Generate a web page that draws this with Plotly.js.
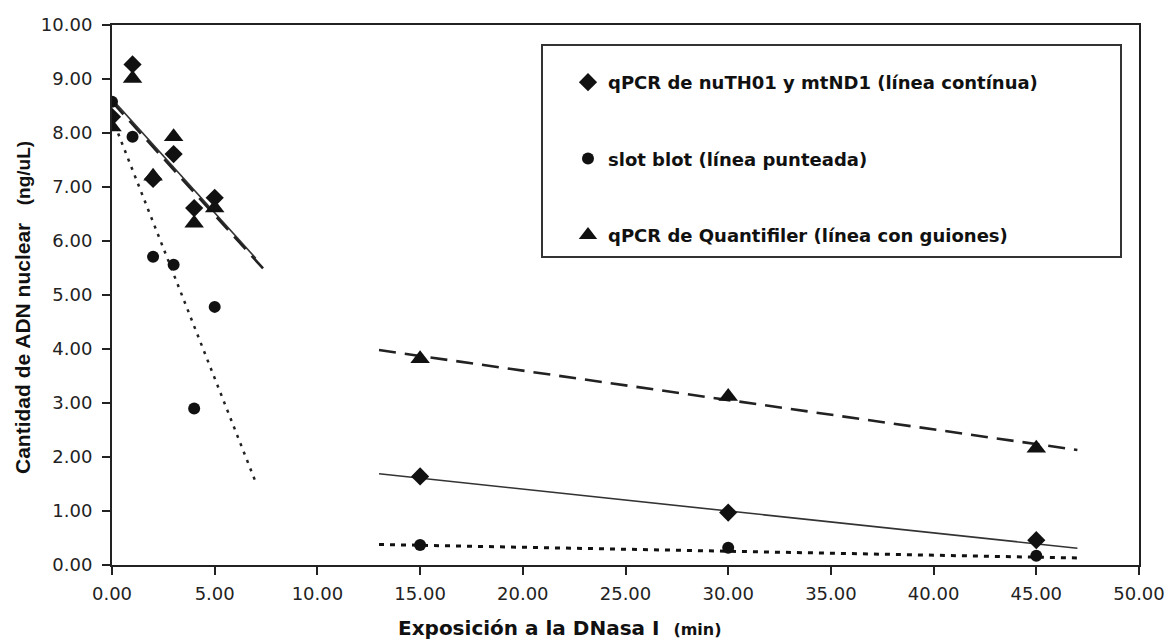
<!DOCTYPE html>
<html>
<head>
<meta charset="utf-8">
<script src="https://cdn.plot.ly/plotly-3.0.1.min.js"></script>
<style>html,body{margin:0;padding:0;background:#fff;}#chart{width:1169px;height:644px;}</style>
</head>
<body>
<div id="chart"></div>
<script>
// Exposure time (min)
const times = [0, 1, 2, 3, 4, 5, 15, 30, 45];
// qPCR nuTH01 / mtND1 (diamonds)
const qpcrNu = [8.30, 9.27, 7.15, 7.61, 6.61, 6.80, 1.64, 0.97, 0.46];
// slot blot (circles)
const slotBlot = [8.58, 7.93, 5.71, 5.56, 2.90, 4.78, 0.37, 0.32, 0.17];
// qPCR Quantifiler (triangles)
const quantifiler = [8.11, 9.01, 7.20, 7.93, 6.33, 6.61, 3.82, 3.12, 2.16];

// Trend lines (two segments each, null = break)
const fitNuX = [0, 7.0, null, 13, 47];
const fitNuY = [8.63, 5.68, null, 1.69, 0.31];
const fitQuX = [0, 7.5, null, 13, 47];
const fitQuY = [8.58, 5.43, null, 3.98, 2.13];
const fitSlotEarlyX = [0.3, 7.0];
const fitSlotEarlyY = [7.99, 1.53];
const fitSlotLateX = [13, 47];
const fitSlotLateY = [0.38, 0.13];

const names = [
  '<b>qPCR de nuTH01 y mtND1 (línea contínua)</b>',
  '<b>slot blot (línea punteada)</b>',
  '<b>qPCR de Quantifiler (línea con guiones)</b>'
];

const xTicks = [0, 5, 10, 15, 20, 25, 30, 35, 40, 45, 50];
const yTicks = [0, 1, 2, 3, 4, 5, 6, 7, 8, 9, 10];

const ink = '#111';

const traces = [
  {x: fitNuX, y: fitNuY, mode: 'lines', line: {color: '#333', width: 1.6}, showlegend: false, hoverinfo: 'skip'},
  {x: fitQuX, y: fitQuY, mode: 'lines', line: {color: '#222', width: 2.6, dash: '17px,9px'}, showlegend: false, hoverinfo: 'skip'},
  {x: fitSlotEarlyX, y: fitSlotEarlyY, mode: 'lines', line: {color: '#222', width: 2.5, dash: '3px,6px'}, showlegend: false, hoverinfo: 'skip'},
  {x: fitSlotLateX, y: fitSlotLateY, mode: 'lines', line: {color: '#111', width: 3, dash: '5px,6px'}, showlegend: false, hoverinfo: 'skip'},
  {x: times, y: qpcrNu, mode: 'markers', name: names[0], legendgroup: 'a',
   marker: {symbol: 'diamond', size: 14, color: ink}},
  {x: times, y: slotBlot, mode: 'markers', name: names[1], legendgroup: 'b',
   marker: {symbol: 'circle', size: 12, color: ink}},
  {x: times, y: quantifiler, mode: 'markers', name: names[2], legendgroup: 'c',
   marker: {symbol: 'triangle-up', size: 17, color: ink}}
];

const L = 112, R = 30, T = 25, B = 79;
const W = 1169, H = 644;
const pw = W - L - R, ph = H - T - B;
const px = v => (v - L) / pw;
const py = v => 1 - (v - T) / ph;

const layout = {
  width: W, height: H,
  margin: {l: L, r: R, t: T, b: B},
  paper_bgcolor: '#fff', plot_bgcolor: '#fff',
  showlegend: true,
  legend: {
    x: px(568), y: py(64), xanchor: 'left', yanchor: 'top',
    bgcolor: 'rgba(0,0,0,0)', borderwidth: 0,
    font: {family: 'DejaVu Sans', size: 18, color: ink},
    tracegroupgap: 50
  },
  xaxis: {
    range: [0, 50], tickvals: xTicks, ticktext: xTicks.map(v => v.toFixed(2)),
    showgrid: false, zeroline: false,
    showline: true, linecolor: '#222', linewidth: 2, mirror: true,
    ticks: 'outside', ticklen: 8, tickwidth: 2, tickcolor: '#222',
    tickfont: {family: 'DejaVu Sans', size: 18, color: '#222'},
    ticklabelstandoff: 3
  },
  yaxis: {
    range: [0, 10], tickvals: yTicks, ticktext: yTicks.map(v => v.toFixed(2)),
    showgrid: false, zeroline: false,
    showline: true, linecolor: '#222', linewidth: 2, mirror: true,
    ticks: 'outside', ticklen: 8, tickwidth: 2, tickcolor: '#222',
    tickfont: {family: 'DejaVu Sans', size: 18, color: '#222'},
    ticklabelstandoff: 6
  },
  shapes: [{
    type: 'rect', xref: 'paper', yref: 'paper',
    x0: px(542), x1: px(1121), y0: py(257), y1: py(45),
    line: {color: '#333', width: 2}, fillcolor: 'rgba(0,0,0,0)', layer: 'above'
  }],
  annotations: [
    {
      xref: 'paper', yref: 'paper', x: px(22), y: py(308), xanchor: 'center', yanchor: 'middle',
      textangle: -90, showarrow: false,
      text: '<b>Cantidad de ADN nuclear&nbsp;&nbsp;&nbsp;<span style="font-size:19px">(ng/uL)</span></b>',
      font: {family: 'Liberation Sans', size: 21, color: ink}
    },
    {
      xref: 'paper', yref: 'paper', x: px(560), y: py(628), xanchor: 'center', yanchor: 'middle',
      showarrow: false,
      text: '<b>Exposición a la DNasa I&nbsp;&nbsp;<span style="font-size:16px">(min)</span></b>',
      font: {family: 'DejaVu Sans', size: 20, color: ink}
    }
  ]
};

Plotly.newPlot('chart', traces, layout, {displayModeBar: false, staticPlot: true});
</script>
</body>
</html>
